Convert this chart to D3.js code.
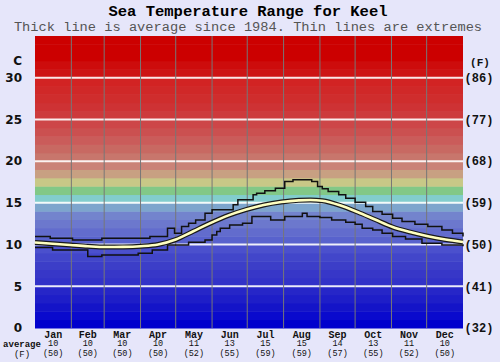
<!DOCTYPE html>
<html><head><meta charset="utf-8">
<script src="https://cdn.jsdelivr.net/npm/d3@7"></script>
<style>
html,body{margin:0;padding:0;background:#e6e6fa;}
svg{display:block;}
</style></head>
<body>
<script>
// ---- data ----
const months = ["Jan","Feb","Mar","Apr","May","Jun","Jul","Aug","Sep","Oct","Nov","Dec"];
const monthDays = [31,28,31,30,31,30,31,31,30,31,30,31];
const monthAvgC = [10,10,10,10,11,13,15,15,14,13,11,10];
const monthAvgF = [50,50,50,50,52,55,59,59,57,55,52,50];
const yTicksC = [0,5,10,15,20,25,30];
const yTicksF = [32,41,50,59,68,77,86];

// average (day of year, deg C)
const avgDays  = [0,15,30,45,60,75,90,105,120,135,150,165,180,195,210,225,235,245,260,275,290,305,320,335,350,365];
const avgTemps = [10.25,10.1,9.95,9.8,9.7,9.72,9.8,10.0,10.6,11.6,12.6,13.5,14.2,14.75,15.1,15.3,15.35,15.25,14.7,13.9,13.0,12.1,11.5,11.0,10.6,10.3];

// maximum extreme
const maxDays  = [0,13,32,57,98,113,119,125,131,137,145,151,169,173,186,189,196,205,213,220,236,241,245,250,259,265,273,282,288,296,305,313,324,335,347,356,365];
const maxTemps = [10.96,10.76,10.56,10.76,10.96,11.96,11.36,12.16,12.56,12.96,13.76,14.16,14.76,15.36,15.96,16.16,16.44,16.76,17.56,17.76,17.56,16.96,16.68,16.36,15.96,15.56,15.08,14.56,13.96,13.64,13.16,12.76,12.44,12.16,11.76,11.36,10.96];

// minimum extreme
const minDays  = [0,15,45,57,88,100,113,131,145,151,155,158,166,177,185,201,213,228,232,243,253,265,273,279,288,296,305,316,330,347,365];
const minTemps = [9.64,9.36,8.56,8.76,8.96,9.36,9.96,10.28,10.56,11.16,11.56,11.96,12.36,12.56,13.36,12.96,13.36,13.76,13.36,13.24,12.96,12.68,12.44,11.96,11.76,11.36,10.96,10.68,10.16,9.96,9.8];

// colour of each 1-degree band, from 0-1 up to 34-35
const bandColors = [
 "rgb(0,0,205)","rgb(10,10,205)","rgb(20,20,200)","rgb(30,30,200)","rgb(38,38,200)",
 "rgb(50,50,200)","rgb(55,55,200)","rgb(60,62,200)","rgb(66,70,202)","rgb(75,80,205)",
 "rgb(88,98,205)","rgb(98,108,205)","rgb(108,120,205)","rgb(115,132,205)","rgb(125,165,205)",
 "rgb(130,205,205)","rgb(130,200,135)","rgb(200,200,135)","rgb(200,160,130)","rgb(202,130,120)",
 "rgb(200,118,108)","rgb(200,105,98)","rgb(202,92,90)","rgb(203,80,80)","rgb(205,70,72)",
 "rgb(205,58,60)","rgb(206,50,52)","rgb(207,45,45)","rgb(208,40,40)","rgb(210,35,35)",
 "rgb(205,20,20)","rgb(205,12,12)","rgb(204,0,0)","rgb(204,0,0)","rgb(204,0,0)"
];

// ---- chart ----
const W = 500, H = 362;
const svg = d3.select("body").append("svg").attr("width", W).attr("height", H);
svg.append("rect").attr("width", W).attr("height", H).attr("fill", "#e6e6fa");

const x = d3.scaleLinear().domain([0,365]).range([35,463]);
const y = d3.scaleLinear().domain([0,35]).range([328,36]);

// bands
svg.append("g").selectAll("rect").data(bandColors).join("rect")
  .attr("x", x(0)).attr("width", x(365)-x(0))
  .attr("y", (c,i) => y(i+1)).attr("height", (c,i) => y(i)-y(i+1)+0.5)
  .attr("fill", c => c);

// horizontal grid
svg.append("g").selectAll("line").data(yTicksC.filter(d => d > 0)).join("line")
  .attr("x1", x(0)).attr("x2", x(365))
  .attr("y1", d => y(d)).attr("y2", d => y(d))
  .attr("stroke", "#ffffff").attr("stroke-opacity", 0.9).attr("stroke-width", 2);

// month boundaries
const cum = d3.cumsum(monthDays);
const starts = [0, ...cum.slice(0, 11)];
svg.append("g").selectAll("line").data(cum.slice(0, 11)).join("line")
  .attr("x1", d => x(d)).attr("x2", d => x(d))
  .attr("y1", y(35)).attr("y2", y(0))
  .attr("stroke", "#777777").attr("stroke-width", 1);

// lines
const stepLine = d3.line().x(d => x(d[0])).y(d => y(d[1])).curve(d3.curveStepAfter);
const smooth = d3.line().x(d => x(d[0])).y(d => y(d[1])).curve(d3.curveMonotoneX);

svg.append("path").datum(d3.zip(maxDays, maxTemps)).attr("d", stepLine)
  .attr("fill", "none").attr("stroke", "#111").attr("stroke-width", 1.5);
svg.append("path").datum(d3.zip(minDays, minTemps)).attr("d", stepLine)
  .attr("fill", "none").attr("stroke", "#111").attr("stroke-width", 1.5);
const avgData = d3.zip(avgDays, avgTemps);
svg.append("path").datum(avgData).attr("d", smooth)
  .attr("fill", "none").attr("stroke", "#1a1a1a").attr("stroke-width", 5);
svg.append("path").datum(avgData).attr("d", smooth)
  .attr("fill", "none").attr("stroke", "#ffffc0").attr("stroke-width", 2.6);

// titles
svg.append("text").attr("x", 248).attr("y", 15.5).attr("text-anchor", "middle")
  .attr("font-family", "Liberation Mono, monospace").attr("font-weight", "bold")
  .attr("font-size", 15.5).attr("fill", "#000").text("Sea Temperature Range for Keel");
svg.append("text").attr("x", 248).attr("y", 31).attr("text-anchor", "middle")
  .attr("font-family", "Liberation Mono, monospace")
  .attr("font-size", 13.7).attr("fill", "#555").text("Thick line is average since 1984. Thin lines are extremes");

// left axis (C)
const left = svg.append("g").attr("font-family", "DejaVu Sans, sans-serif")
  .attr("font-weight", "bold").attr("font-size", 12).attr("fill", "#111");
left.append("text").attr("x", 22).attr("y", 61).attr("dy", "0.36em").attr("text-anchor", "end").text("C");
left.selectAll("text.t").data(yTicksC).join("text").attr("class", "t")
  .attr("x", 22).attr("y", d => y(d)).attr("dy", "0.36em").attr("text-anchor", "end").text(d => d);

// right axis (F)
const right = svg.append("g").attr("font-family", "Liberation Mono, monospace")
  .attr("font-weight", "bold").attr("font-size", 12).attr("fill", "#111");
right.append("text").attr("x", 480).attr("y", 62).attr("dy", "0.36em").attr("text-anchor", "middle")
  .attr("font-size", 11).text("(F)");
right.selectAll("text.t").data(yTicksF).join("text").attr("class", "t")
  .attr("x", 479).attr("y", (d,i) => y(yTicksC[i])).attr("dy", "0.36em").attr("text-anchor", "middle")
  .text(d => "(" + d + ")");

// bottom labels
const bottom = svg.append("g").attr("font-family", "Liberation Mono, monospace").attr("fill", "#111")
  .attr("text-anchor", "middle");
const mid = i => x(starts[i] + monthDays[i] / 2);
bottom.selectAll("text.m").data(months).join("text").attr("class", "m")
  .attr("x", (d,i) => mid(i)).attr("y", 334).attr("dy", "0.36em")
  .attr("font-weight", "bold").attr("font-size", 10).text(d => d);
bottom.selectAll("text.c").data(monthAvgC).join("text").attr("class", "c")
  .attr("x", (d,i) => mid(i)).attr("y", 343).attr("dy", "0.36em")
  .attr("font-size", 8.5).text(d => d);
bottom.selectAll("text.f").data(monthAvgF).join("text").attr("class", "f")
  .attr("x", (d,i) => mid(i)).attr("y", 352.5).attr("dy", "0.36em")
  .attr("font-size", 8.5).text(d => "(" + d + ")");
bottom.append("text").attr("x", 22).attr("y", 343.5).attr("dy", "0.36em")
  .attr("font-weight", "bold").attr("font-size", 9).text("average");
bottom.append("text").attr("x", 22).attr("y", 353.5).attr("dy", "0.36em")
  .attr("font-size", 9).text("(F)");
</script>
</body></html>
